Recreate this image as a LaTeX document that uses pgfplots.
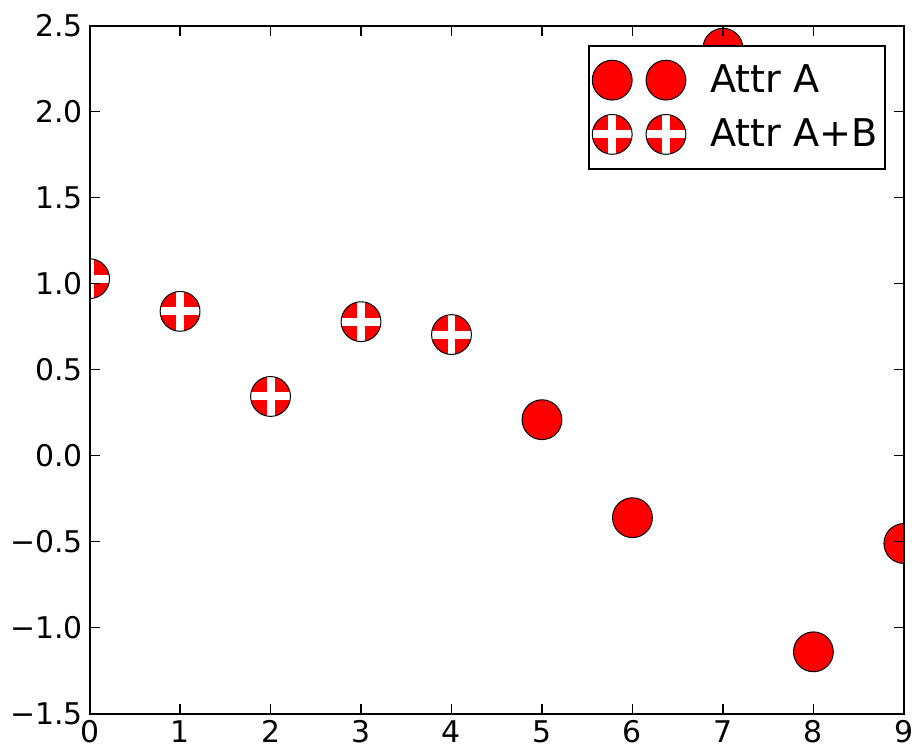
\documentclass[border=0pt]{standalone}
\usepackage{pgfplots}
\pgfplotsset{compat=1.18}
\usepackage{fontspec}
\setmainfont{DejaVu Sans}

\pgfdeclareplotmark{hatchcircle}{%
  \pgfpathcircle{\pgfpointorigin}{\pgfplotmarksize}%
  \pgfsetfillcolor{red}%
  \pgfusepath{fill}%
  \begin{pgfscope}%
    \pgfpathcircle{\pgfpointorigin}{\pgfplotmarksize}%
    \pgfusepath{clip}%
    \pgfsetstrokecolor{white}%
    \pgfsetlinewidth{4pt}%
    \pgfpathmoveto{\pgfpoint{-\pgfplotmarksize}{0pt}}%
    \pgfpathlineto{\pgfpoint{\pgfplotmarksize}{0pt}}%
    \pgfpathmoveto{\pgfpoint{0pt}{-\pgfplotmarksize}}%
    \pgfpathlineto{\pgfpoint{0pt}{\pgfplotmarksize}}%
    \pgfusepath{stroke}%
  \end{pgfscope}%
  \pgfpathcircle{\pgfpointorigin}{\pgfplotmarksize}%
  \pgfsetstrokecolor{black}%
  \pgfusepath{stroke}%
}

\pgfplotsset{
  twomarks/.style={legend image code/.code={\draw[##1, only marks] plot coordinates {(0pt,0pt) (27pt,0pt)};}}
}

\begin{document}
\begin{tikzpicture}
\begin{axis}[
  scale only axis,
  width=409pt, height=345.5pt,
  xmin=0, xmax=9, ymin=-1.5, ymax=2.5,
  xtick={0,1,2,3,4,5,6,7,8,9},
  xticklabels={0,1,2,3,4,5,6,7,8,9},
  ytick={-1.5,-1,-0.5,0,0.5,1,1.5,2,2.5},
  yticklabels={−1.5,−1.0,−0.5,0.0,0.5,1.0,1.5,2.0,2.5},
  tick label style={font=\fontsize{15}{18}\selectfont},
  major tick length=5pt,
  tick align=inside,
  tick pos=both,
  axis line style={line width=1pt},
  every tick/.style={black, line width=0.6pt},
  axis on top,
  clip marker paths=true,
  clip bounding box=upper bound,
  legend cell align=left,
  legend style={
    at={(axis description cs:1,1)}, anchor=north east,
    xshift=-9pt, yshift=-9.5pt,
    font=\fontsize{19.2}{22}\selectfont,
    draw=black, line width=1pt, fill=white,
    inner xsep=1.5pt, inner ysep=7.25pt,
    row sep=7pt,
    /tikz/every odd column/.append style={column sep=10pt},
  },
]
\addplot[only marks, mark=*, mark size=10pt,
  mark options={fill=red, draw=black, line width=0.5pt}, twomarks]
  coordinates {(5,0.21) (6,-0.36) (7,2.37) (8,-1.14) (9,-0.51)};
\addlegendentry{Attr A}
\addplot[only marks, mark=hatchcircle, mark size=10pt,
  mark options={line width=0.5pt}, twomarks]
  coordinates {(0,1.03) (1,0.84) (2,0.345) (3,0.78) (4,0.705)};
\addlegendentry{Attr A+B}
\end{axis}
\path ([shift={(-45pt,-19pt)}]current axis.south west) rectangle ([shift={(6pt,13pt)}]current axis.north east);
\end{tikzpicture}
\end{document}
